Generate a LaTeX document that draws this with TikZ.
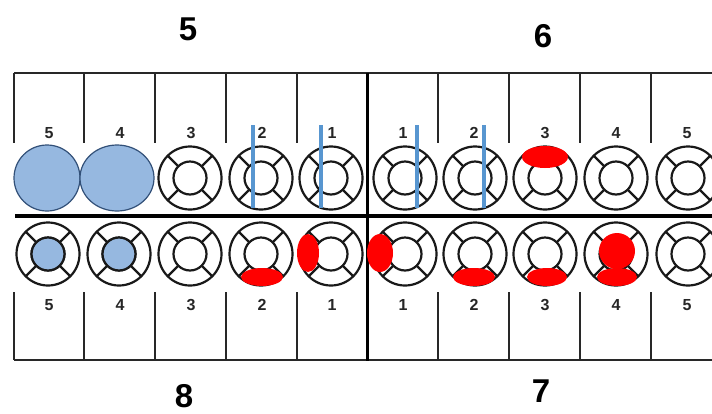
\documentclass[tikz,border=0pt]{standalone}
\usepackage{fontspec}
\setmainfont{Liberation Sans}
\definecolor{toothblue}{RGB}{150,184,224}
\definecolor{lineblue}{RGB}{88,150,208}
\definecolor{bluedge}{RGB}{50,80,120}
\definecolor{cavity}{RGB}{255,0,0}
\definecolor{gridline}{RGB}{40,40,40}
\newcommand{\toothring}[3]{% name, x, y
  \coordinate (#1) at (#2,#3);
  \begin{scope}[shift={(#2,#3)}]
    \draw[ring] (0,0) circle[radius=31.5];
    \draw[ring] (0,0) circle[radius=16.5];
    \foreach \a in {45,135,225,315} \draw[ring] (\a:16.5) -- (\a:31.5);
  \end{scope}
}
\begin{document}
\begin{tikzpicture}[x=1pt,y=-1pt,
  ring/.style={line width=2.2pt,draw=black!90},
  grid/.style={line width=1.3pt,draw=gridline},
  thick divider/.style={line width=3.8pt,draw=black},
  bluebar/.style={line width=3.6pt,draw=lineblue},
  redmark/.style={fill=cavity,draw=none},
  small/.style={font=\fontsize{16}{16}\selectfont\bfseries,text=black!85},
  big/.style={font=\fontsize{33}{33}\selectfont\bfseries,inner sep=0pt}]
\useasboundingbox (0,0) rectangle (712,413);
\clip (0,0) rectangle (712,413);

% quadrant numbers
\node[big] (q5) at (188,29) {5};
\node[big] (q6) at (543,36) {6};
\node[big] (q8) at (184,396) {8};
\node[big] (q7) at (541,391) {7};

% top box
\draw[grid] (14,73) -- (712,73);
\foreach \x in {14,84,155,226,297,438,509,580,651} \draw[grid] (\x,73) -- (\x,143);
% bottom box
\draw[grid] (14,360) -- (712,360);
\foreach \x in {14,84,155,226,297,438,509,580,651} \draw[grid] (\x,292) -- (\x,360);

% labels
\foreach \x/\t/\n in {49/5/a,120/4/b,191/3/c,262/2/d,332/1/e,403/1/f,474/2/g,545/3/h,616/4/i,687/5/j}{
  \node[small] (tu\n) at (\x,133) {\t};
  \node[small] (tl\n) at (\x,305) {\t};
}

% upper teeth
\coordinate (U5) at (47,178);
\coordinate (U4) at (117,178);
\draw[fill=toothblue,draw=bluedge,line width=1.2pt] (U5) circle[radius=33];
\draw[fill=toothblue,draw=bluedge,line width=1.2pt] (U4) ellipse[x radius=37,y radius=33];
\toothring{U3}{190}{178}
\toothring{U2}{261}{178}
\toothring{U1}{331}{178}
\toothring{V1}{405}{178}
\toothring{V2}{475}{178}
\toothring{V3}{545}{178}
\toothring{V4}{616}{178}
\toothring{V5}{688}{178}

% lower teeth
\toothring{L5}{48}{254}
\toothring{L4}{119}{254}
\toothring{L3}{190}{254}
\toothring{L2}{261}{254}
\toothring{L1}{331}{254}
\toothring{M1}{405}{254}
\toothring{M2}{475}{254}
\toothring{M3}{545}{254}
\toothring{M4}{616}{254}
\toothring{M5}{688}{254}
\draw[fill=toothblue,ring] (L5) circle[radius=16.5];
\draw[fill=toothblue,ring] (L4) circle[radius=16.5];

% dividing lines
\draw[thick divider] (15,216) -- (712,216);
\draw[line width=3pt] (367,73) -- (367,361);

% blue bars (upper)
\foreach \x in {253,321,417,484} \draw[bluebar] (\x,125) -- (\x,208);

% red marks
\fill[redmark] (545,157) ellipse[x radius=23,y radius=11];
\fill[redmark] (262,277) ellipse[x radius=21,y radius=9];
\fill[redmark] (308,253) ellipse[x radius=11,y radius=19];
\fill[redmark] (380,253) ellipse[x radius=13,y radius=19];
\fill[redmark] (474,277) ellipse[x radius=21,y radius=9];
\fill[redmark] (547,277) ellipse[x radius=20,y radius=9];
\fill[redmark] (617,251) circle[radius=18];
\fill[redmark] (617,277) ellipse[x radius=20,y radius=9];
\end{tikzpicture}
\end{document}
